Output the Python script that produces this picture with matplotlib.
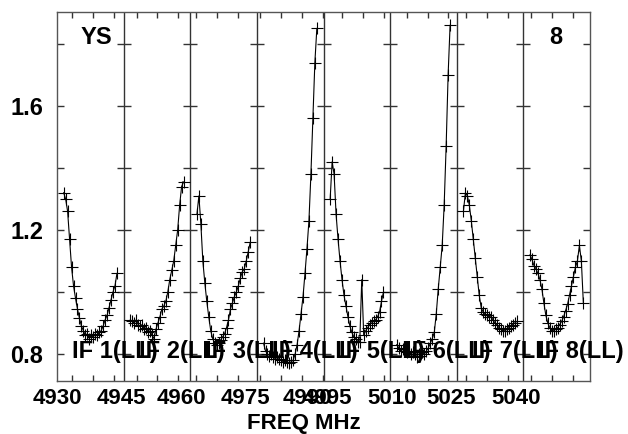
import matplotlib
matplotlib.use("Agg")
import matplotlib.pyplot as plt
import numpy as np
from matplotlib import transforms

plt.rcParams['font.family'] = ['Liberation Sans', 'DejaVu Sans']

# ---------------- data ----------------
if_names = ['IF 1(LL)', 'IF 2(LL)', 'IF 3(LL)', 'IF 4(LL)',
            'IF 5(LL)', 'IF 6(LL)', 'IF 7(LL)', 'IF 8(LL)']
if_start_mhz = [4926.4, 4941.9, 4958.6, 4974.2, 4990.5, 5006.0, 5022.7, 5038.1]
if_width_mhz = 16.0
tick_step_mhz = 5
xlabel_values = [4930, 4945, 4960, 4975, 4990, 4995, 5010, 5025, 5040]
xlabel_panels = [0, 1, 2, 3, 3, 4, 5, 6, 7]
ytick_values = [0.8, 1.0, 1.2, 1.4, 1.6, 1.8]
ylabel_values = [0.8, 1.2, 1.6]
ylabel_text = ['0.8', '1.2', '1.6']

amp_if1 = [1.32, 1.30, 1.26, 1.17, 1.08, 1.02, 0.98, 0.945, 0.915, 0.89,
           0.875, 0.86, 0.865, 0.85, 0.86, 0.855, 0.865, 0.86, 0.87, 0.875,
           0.89, 0.91, 0.925, 0.95, 0.975, 1.00, 1.02, 1.06]
amp_if2 = [0.91, 0.905, 0.90, 0.91, 0.895, 0.89, 0.895, 0.88, 0.885, 0.87,
           0.875, 0.86, 0.85, 0.88, 0.90, 0.92, 0.945, 0.955, 0.97, 1.00,
           1.04, 1.07, 1.10, 1.15, 1.20, 1.28, 1.34, 1.355]
amp_if3 = [1.25, 1.31, 1.22, 1.10, 1.03, 0.97, 0.92, 0.875, 0.85, 0.835,
           0.83, 0.835, 0.845, 0.855, 0.865, 0.885, 0.91, 0.945, 0.965, 0.985,
           1.00, 1.02, 1.045, 1.065, 1.075, 1.10, 1.13, 1.16]
amp_if4 = [0.835, 0.81, 0.80, 0.795, 0.80, 0.79, 0.785, 0.79, 0.785, 0.78,
           0.775, 0.78, 0.775, 0.77, 0.775, 0.78, 0.80, 0.83, 0.875, 0.93,
           0.985, 1.06, 1.14, 1.23, 1.38, 1.56, 1.74, 1.85]
amp_if5 = [1.30, 1.42, 1.38, 1.25, 1.17, 1.10, 1.04, 0.99, 0.955, 0.92,
           0.89, 0.87, 0.855, 0.85, 0.84, 0.84, 1.04, 0.86, 0.875, 0.885,
           0.895, 0.90, 0.905, 0.91, 0.92, 0.935, 0.97, 1.00]
amp_if6 = [0.83, 0.82, 0.81, 0.815, 0.81, 0.805, 0.81, 0.80, 0.805, 0.80,
           0.79, 0.80, 0.795, 0.805, 0.80, 0.81, 0.82, 0.835, 0.85, 0.87,
           0.93, 1.01, 1.08, 1.15, 1.28, 1.47, 1.70, 1.86]
amp_if7 = [1.26, 1.32, 1.31, 1.28, 1.23, 1.17, 1.11, 1.05, 0.99, 0.95,
           0.935, 0.93, 0.925, 0.92, 0.92, 0.91, 0.90, 0.895, 0.885, 0.88,
           0.875, 0.875, 0.88, 0.885, 0.89, 0.895, 0.90, 0.905]
amp_if8 = [1.12, 1.105, 1.085, 1.075, 1.06, 1.04, 1.01, 0.965, 0.925, 0.90,
           0.885, 0.875, 0.875, 0.88, 0.885, 0.895, 0.905, 0.92, 0.94, 0.96,
           0.99, 1.02, 1.05, 1.08, 1.10, 1.15, 1.10, 0.965]
all_amps = [amp_if1, amp_if2, amp_if3, amp_if4, amp_if5, amp_if6, amp_if7, amp_if8]

# ---------------- figure ----------------
W, H = 628, 434
fig = plt.figure(figsize=(W / 100, H / 100), dpi=100)
ax = fig.add_axes([57 / W, 53 / H, 533 / W, 369 / H])
npan = len(all_amps)
ax.set_xlim(0, npan)
ax.set_ylim(0.713, 1.903)

frame_col = '#555555'
for s in ax.spines.values():
    s.set_color(frame_col)
    s.set_linewidth(1.0)

# data
for k, amps in enumerate(all_amps):
    n = len(amps)
    x = k + 0.1 + 0.8 * np.arange(n) / (n - 1)
    ax.plot(x, amps, color='black', lw=0.8, marker='+', ms=9, mew=0.8, zorder=3)

# panel dividers
for k in range(1, npan):
    ax.axvline(k, color='#333333', lw=1.0, zorder=2)

# y tick marks on every divider and edge
for k in range(0, npan + 1):
    ax.plot([k] * len(ytick_values), ytick_values, ls='none', marker='_',
            ms=10, mew=1.0, color='#333333', clip_on=True, zorder=2)

# x tick marks per IF (5 MHz steps)
ylo, yhi = ax.get_ylim()
for k, f0 in enumerate(if_start_mhz):
    fvals = np.arange(np.ceil(f0 / tick_step_mhz) * tick_step_mhz, f0 + if_width_mhz, tick_step_mhz)
    xt = k + (fvals - f0) / if_width_mhz
    ax.plot(xt, [yhi] * len(xt), ls='none', marker='|', ms=8, mew=1.0,
            color='#333333', clip_on=True)
    ax.plot(xt, [ylo] * len(xt), ls='none', marker='|', ms=8, mew=1.0,
            color='#333333', clip_on=True)

ax.set_xticks([])
ax.set_yticks(ylabel_values, labels=ylabel_text)
ax.tick_params(axis='y', length=0, pad=10, labelsize=17)
for lab in ax.get_yticklabels():
    lab.set_fontweight('bold')

# x tick labels
trans_lab = transforms.blended_transform_factory(ax.transData, fig.transFigure) + \
    transforms.ScaledTranslation(-15 / 100, 0, fig.dpi_scale_trans)
for val, p in zip(xlabel_values, xlabel_panels):
    xt = p + (val - if_start_mhz[p]) / if_width_mhz
    ax.text(xt, 1 - 399 / H, str(val), transform=trans_lab, ha='center', va='center',
            fontsize=16, fontweight='bold', clip_on=False)

# IF labels
trans_if = transforms.blended_transform_factory(ax.transData, ax.transAxes)
for k, name in enumerate(if_names):
    ax.text(k + 15 / 66.6, 0.081, name, transform=trans_if, ha='left', va='center',
            fontsize=17, fontweight='bold', zorder=4, clip_on=False)

ax.text(0.585, 0.932, 'YS', transform=trans_if, ha='center', va='center',
        fontsize=17, fontweight='bold')
ax.text(7.49, 0.932, '8', transform=trans_if, ha='center', va='center',
        fontsize=17, fontweight='bold')

fig.text(304 / W, 1 - 424 / H, 'FREQ MHz', ha='center', va='center',
         fontsize=16, fontweight='bold')

fig.savefig('out.png', dpi=100)
